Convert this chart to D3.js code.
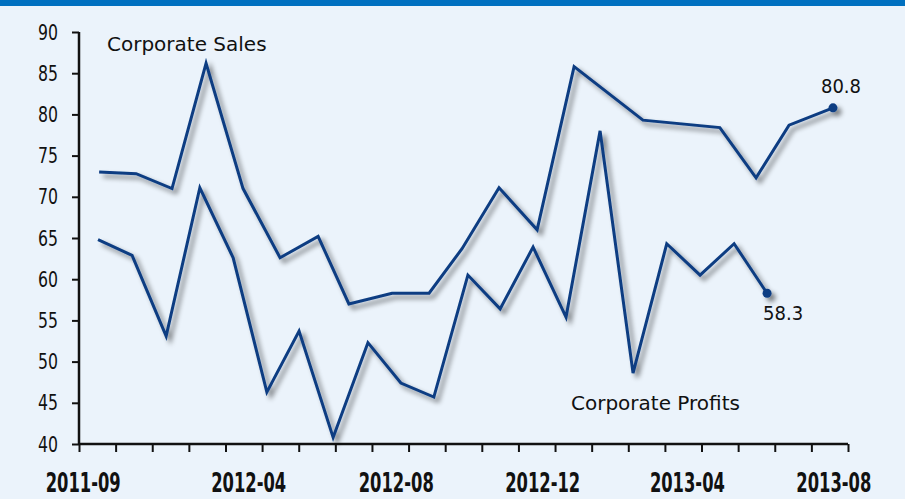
<!DOCTYPE html>
<html>
<head>
<meta charset="utf-8">
<script src="https://cdn.jsdelivr.net/npm/d3@7"></script>
<style>
  html, body { margin: 0; padding: 0; background: #ebf3fb; }
  svg { display: block; }
</style>
</head>
<body>
<div id="chart"></div>
<script>
// time position in months from the axis start, values in percent
const salesT = [0.55, 1.56, 2.54, 3.47, 4.48, 5.49, 6.53, 7.37, 8.55, 9.56, 10.46, 11.47, 12.51, 13.52, 15.40, 17.50, 18.49, 19.39, 20.59];
const salesV = [73.0, 72.8, 71.0, 86.2, 71.0, 62.6, 65.2, 57.0, 58.3, 58.3, 63.7, 71.1, 66.0, 85.8, 79.3, 78.4, 72.3, 78.7, 80.8];

const profitsT = [0.52, 1.45, 2.38, 3.30, 4.21, 5.13, 6.01, 6.94, 7.89, 8.79, 9.69, 10.62, 11.50, 12.40, 13.30, 14.23, 15.13, 16.05, 16.96, 17.89, 18.79];
const profitsV = [64.8, 62.9, 53.1, 71.1, 62.6, 46.3, 53.7, 40.8, 52.3, 47.4, 45.7, 60.5, 56.4, 63.9, 55.4, 78.0, 48.6, 64.3, 60.5, 64.3, 58.3];

const xLabels = ['2011-09', '2012-04', '2012-08', '2012-12', '2013-04', '2013-08'];
const xLabelPos = [0.1, 4.62, 8.65, 12.65, 16.6, 20.6];
const yTicks = [40, 45, 50, 55, 60, 65, 70, 75, 80, 85, 90];

const width = 905, height = 499;
const margin = {top: 32, left: 79, right: 57, bottom: 55};
const lineColor = '#0c3c82';
const tickFont = '"DejaVu Sans Condensed", "DejaVu Sans", sans-serif';
const labelFont = '"DejaVu Sans", sans-serif';

const svg = d3.select('#chart').append('svg')
    .attr('width', width)
    .attr('height', height);

const defs = svg.append('defs');
const shadow = defs.append('filter').attr('id', 'shadow')
    .attr('x', '-10%').attr('y', '-10%').attr('width', '130%').attr('height', '130%');
shadow.append('feGaussianBlur').attr('in', 'SourceAlpha').attr('stdDeviation', 2.4).attr('result', 'blur');
shadow.append('feOffset').attr('dx', 4).attr('dy', 4).attr('result', 'off');
shadow.append('feComponentTransfer').append('feFuncA').attr('type', 'linear').attr('slope', 0.5);
const merge = shadow.append('feMerge');
merge.append('feMergeNode');
merge.append('feMergeNode').attr('in', 'SourceGraphic');

svg.append('rect').attr('width', width).attr('height', height).attr('fill', '#ebf3fb');
svg.append('rect').attr('width', width).attr('height', 6).attr('fill', '#0070c0');

const x = d3.scaleLinear().domain([0, 21]).range([margin.left, width - margin.right]);
const y = d3.scaleLinear().domain([40, 90]).range([height - margin.bottom, margin.top]);

// axes
const yAxis = svg.append('g')
    .attr('transform', 'translate(' + margin.left + ',0)')
    .call(d3.axisLeft(y).tickValues(yTicks).tickSize(7).tickPadding(14));
yAxis.select('.domain').attr('d', 'M0,' + y(90) + 'V' + y(40));
yAxis.selectAll('text')
    .style('font-family', tickFont)
    .style('font-size', '22px')
    .attr('textLength', 20)
    .attr('lengthAdjust', 'spacingAndGlyphs')
    .attr('fill', '#111');

const xAxis = svg.append('g')
    .attr('transform', 'translate(0,' + y(40) + ')')
    .call(d3.axisBottom(x).tickValues(d3.range(0, 22)).tickSize(8).tickFormat(''));
xAxis.select('.domain').attr('d', 'M' + x(0) + ',0H' + x(21));

svg.selectAll('.domain').attr('stroke', '#111').attr('stroke-width', 2.5);
svg.selectAll('.tick line').attr('stroke', '#111').attr('stroke-width', 2);

svg.append('g').selectAll('text')
    .data(xLabels)
    .enter().append('text')
    .attr('x', function(d, i) { return x(xLabelPos[i]) - 37; })
    .attr('y', y(40) + 48)
    .style('font-family', tickFont)
    .style('font-weight', 'bold')
    .style('font-size', '26px')
    .attr('textLength', 75)
    .attr('lengthAdjust', 'spacingAndGlyphs')
    .attr('fill', '#111')
    .text(function(d) { return d; });

// lines
const line = d3.line().x(function(d) { return x(d[0]); }).y(function(d) { return y(d[1]); });
const series = [
  {name: 'Corporate Sales', t: salesT, v: salesV},
  {name: 'Corporate Profits', t: profitsT, v: profitsV}
];

series.forEach(function(s) {
  const pts = s.t.map(function(t, i) { return [t, s.v[i]]; });
  const g = svg.append('g').attr('filter', 'url(#shadow)');
  g.append('path')
      .attr('d', line(pts))
      .attr('fill', 'none')
      .attr('stroke', lineColor)
      .attr('stroke-width', 3)
      .attr('stroke-linejoin', 'miter');
  const last = pts[pts.length - 1];
  g.append('circle')
      .attr('cx', x(last[0])).attr('cy', y(last[1]))
      .attr('r', 4.5).attr('fill', lineColor);
  s.last = last;
});

// end value labels
svg.append('text')
    .attr('x', x(series[0].last[0]) + 8).attr('y', y(series[0].last[1]) - 15)
    .attr('text-anchor', 'middle')
    .style('font-family', tickFont).style('font-size', '20px').attr('fill', '#111')
    .text(series[0].last[1].toFixed(1));
svg.append('text')
    .attr('x', x(series[1].last[0]) + 16).attr('y', y(series[1].last[1]) + 27)
    .attr('text-anchor', 'middle')
    .style('font-family', tickFont).style('font-size', '20px').attr('fill', '#111')
    .text(series[1].last[1].toFixed(1));

// series names
svg.append('text')
    .attr('x', 107).attr('y', 51)
    .style('font-family', labelFont).style('font-size', '20px').attr('fill', '#111')
    .text(series[0].name);
svg.append('text')
    .attr('x', 571).attr('y', 410)
    .style('font-family', labelFont).style('font-size', '20px').attr('fill', '#111')
    .text(series[1].name);
</script>
</body>
</html>
